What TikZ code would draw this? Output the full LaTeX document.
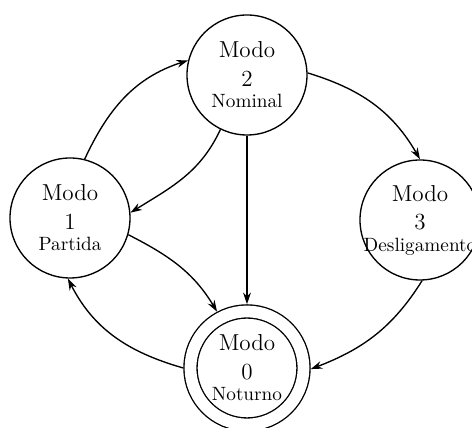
\documentclass[tikz,border=0pt]{standalone}
\usetikzlibrary{arrows.meta}
\begin{document}
\begin{tikzpicture}[x=0.52pt,y=0.52pt,
  state/.style={circle,draw,line width=0.7pt,minimum size=62.4pt,inner sep=0pt,
    align=center,font=\large},
  final/.style={state,double,double distance=6.1pt,minimum size=58.8pt,outer sep=3.75pt},
  edge/.style={-{Stealth[length=6pt,width=4pt]},line width=0.7pt}]
  \useasboundingbox (0,0) rectangle (472,428);

  % operating modes
  \node[state] (n2) at (247,353) {Modo\\[1pt]2\\[-3pt]{\normalsize Nominal}};
  \node[state] (n1) at (70,210)  {Modo\\[1pt]1\\[-3pt]{\normalsize Partida}};
  \node[state] (n3) at (420,208) {Modo\\[1pt]3\\[-3pt]{\normalsize\makebox[0pt]{Desligamento}}};
  \node[final] (n0) at (247,60)  {Modo\\[1pt]0\\[-3pt]{\normalsize Noturno}};

  % transitions
  \draw[edge] (n1.76)  to[out=65,in=198]  (n2.166);
  \draw[edge] (n2.244) to[out=245,in=32]  (n1.5);
  \draw[edge] (n2.2)   to[out=-17,in=120] (n3.90);
  \draw[edge] (n2) -- (n0);
  \draw[edge] (n1.344) to[out=-27,in=121] (n0.118);
  \draw[edge] (n3.272) to[out=238,in=21]  (n0.359);
  \draw[edge] (n0.180) to[out=164,in=297] (n1.268);
\end{tikzpicture}
\end{document}
